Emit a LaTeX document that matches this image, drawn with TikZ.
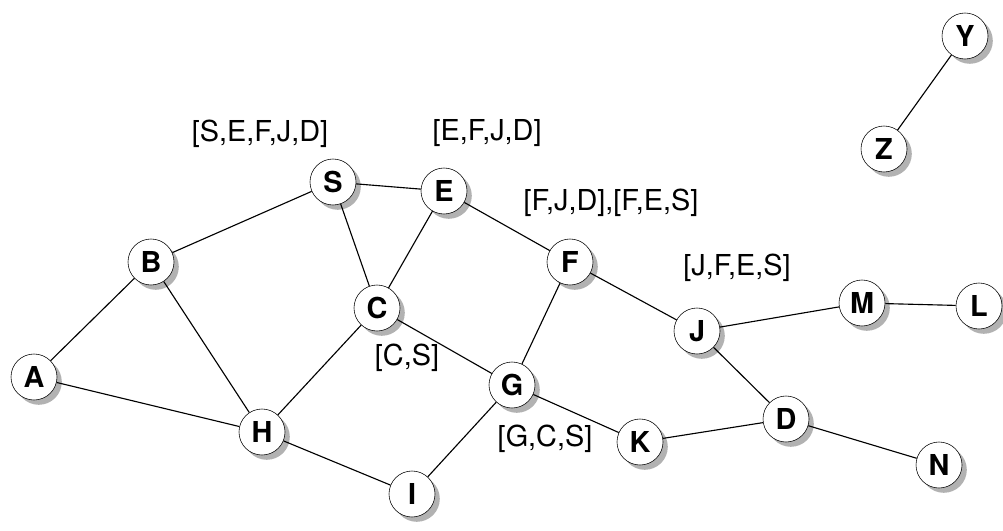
\documentclass[tikz,border=0pt]{standalone}
\usepackage{fontspec}
\setmainfont{TeX Gyre Heros}
\usepackage{tikz}
\usetikzlibrary{shadows}

\begin{document}
\begin{tikzpicture}[x=0.025cm,y=-0.025cm]
			\tikzset{
				vertex/.style={circle,draw,fill=white,minimum size=1.15cm,inner sep=0pt,
					font=\fontsize{20.5}{24}\selectfont\bfseries,
					drop shadow={shadow xshift=0.12cm,shadow yshift=-0.12cm,fill=black!30,opacity=1}},
				route/.style={font=\fontsize{20.5}{24}\selectfont},
				link/.style={thick}
			}
			\useasboundingbox (0,0) rectangle (1003,531);

			%顶点
			\node[vertex] (S) at (333,182) {S};
			\node[vertex] (E) at (444,191) {E};
			\node[vertex] (B) at (151,262) {B};
			\node[vertex] (C) at (377,308) {C};
			\node[vertex] (F) at (570,262) {F};
			\node[vertex] (J) at (697,331) {J};
			\node[vertex] (M) at (862,303) {M};
			\node[vertex] (L) at (979,306) {L};
			\node[vertex] (A) at (34,377) {A};
			\node[vertex] (G) at (512,385) {G};
			\node[vertex] (H) at (262,432) {H};
			\node[vertex] (K) at (640,442) {K};
			\node[vertex] (D) at (786,419) {D};
			\node[vertex] (N) at (939,465) {N};
			\node[vertex] (I) at (412,494) {I};
			\node[vertex] (Y) at (965,36) {Y};
			\node[vertex] (Z) at (884,149) {Z};

			%边
			\foreach \u/\v in {A/B,A/H,B/S,B/H,S/E,S/C,E/C,E/F,C/H,C/G,F/G,F/J,J/M,M/L,J/D,G/K,K/D,D/N,H/I,I/G,Y/Z}
				\draw[link] (\u) -- (\v);

			%路径
			\node[route] (rS) at (260,134) {[S,E,F,J,D]};
			\node[route] (rE) at (487,133) {[E,F,J,D]};
			\node[route] (rF) at (611,203) {[F,J,D],[F,E,S]};
			\node[route] (rJ) at (737,268) {[J,F,E,S]};
			\node[route] (rC) at (407,358) {[C,S]};
			\node[route] (rG) at (545,439) {[G,C,S]};
		\end{tikzpicture}
\end{document}
